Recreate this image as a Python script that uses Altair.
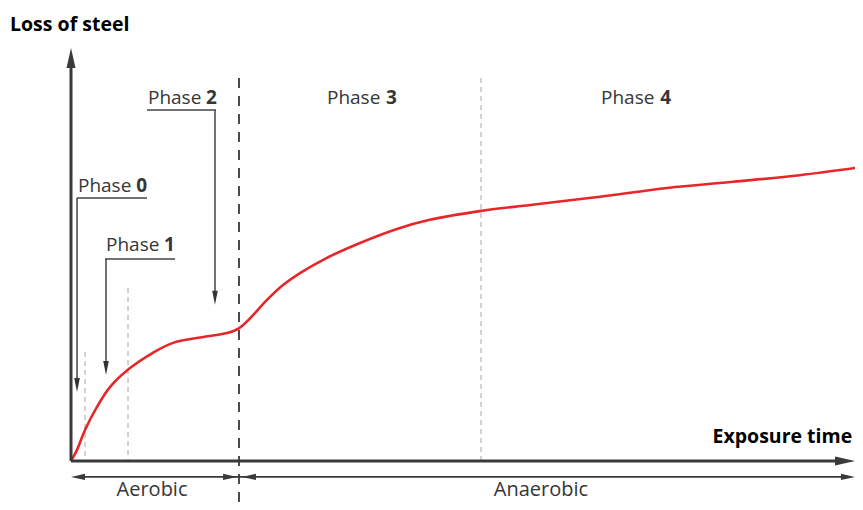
import altair as alt
import pandas as pd

# ---- curve data (exposure time vs loss of steel, arbitrary units 0-100) ----
time = [0, 0.76, 1.77, 3.28, 4.92, 7.45, 10.35, 12.88, 16.29, 19.7, 21.0, 21.72,
        22.98, 24.75, 26.77, 28.91, 32.32, 36.11, 41.16, 45.3, 51.6, 58.0, 66.8,
        75.3, 83.6, 92.0, 100]
loss = [0, 2.7, 7.5, 13.1, 17.9, 22.5, 26.2, 28.6, 29.9, 31.0, 31.9, 32.9,
        35.3, 39.0, 42.6, 45.5, 49.2, 52.5, 56.2, 58.4, 60.5, 62.0, 64.0,
        66.1, 67.6, 69.2, 71.2]

# phase boundaries
aerobic_end = 21.21
phase_bounds_minor = [1.77, 7.2, 51.77]
phase_bounds_top = [26.39, 41.89, 92.74]

phase_words = ["Phase", "Phase", "Phase", "Phase", "Phase"]
phase_nums = ["0", "1", "2", "3", "4"]
phase_word_x = [0.88, 4.42, 9.72, 32.32, 66.92]
phase_num_x = [9.6, 13.13, 18.43, 41.16, 75.76]
phase_y = [66.59, 52.30, 87.89, 87.89, 87.89]

regime_labels = ["Aerobic", "Anaerobic"]
regime_x = [10.23, 59.34]
regime_y = -7.0

XD = [-7.955, 98.99]
YD = [-9.93, 109.69]
xs = alt.Scale(domain=XD, nice=False, zero=False)
ys = alt.Scale(domain=YD, nice=False, zero=False)

DARK = "#3a3a3a"
TEXT = "#363636"


def segs(rows):
    return pd.DataFrame(rows, columns=["x", "y", "x2", "y2"])


def rule_layer(df, color, width, dash=None):
    kw = dict(color=color, strokeWidth=width)
    if dash:
        kw["strokeDash"] = dash
    return alt.Chart(df).mark_rule(**kw).encode(
        x=alt.X("x:Q", scale=xs, axis=None),
        y=alt.Y("y:Q", scale=ys, axis=None),
        x2="x2:Q", y2="y2:Q")


def arrow_layer(df, path, size, color=DARK):
    return alt.Chart(df).mark_point(shape=path, size=size, filled=True,
                                    color=color, opacity=1, strokeWidth=0).encode(
        x=alt.X("x:Q", scale=xs, axis=None),
        y=alt.Y("y:Q", scale=ys, axis=None))


def text_layer(df, **kw):
    return alt.Chart(df).mark_text(**kw).encode(
        x=alt.X("x:Q", scale=xs, axis=None),
        y=alt.Y("y:Q", scale=ys, axis=None),
        text="t:N")


curve_df = pd.DataFrame({"time": time, "loss": loss})
curve = alt.Chart(curve_df).mark_line(color="#e8262a", strokeWidth=2.6,
                                      interpolate="catmull-rom").encode(
    x=alt.X("time:Q", scale=xs, axis=None),
    y=alt.Y("loss:Q", scale=ys, axis=None))

# axes
axes = rule_layer(segs([[0, 0, 0, 97.0], [0, 0, 97.5, 0]]), DARK, 3)
up = arrow_layer(pd.DataFrame({"x": [0], "y": [97.58]}), "M0,-1L-0.45,1L0.45,1Z", 400)
right = arrow_layer(pd.DataFrame({"x": [97.73], "y": [0]}), "M1,0L-1,-0.45L-1,0.45Z", 400)

# dashed phase separators
minor = rule_layer(pd.DataFrame({"x": phase_bounds_minor, "y": phase_bounds_top,
                                 "x2": phase_bounds_minor, "y2": [0, 0, 0]}),
                   "#c4c4c4", 1.5, [5, 4])
major = rule_layer(segs([[aerobic_end, 92.74, aerobic_end, -9.93]]), "#4a4a4a", 2, [10, 8])

# callout lines
callouts = rule_layer(segs([
    [0.76, 63.68, 9.6, 63.68], [0.76, 63.68, 0.76, 19.0],
    [4.29, 48.9, 13.13, 48.9], [4.42, 48.9, 4.42, 23.0],
    [9.6, 84.99, 18.31, 84.99], [18.18, 84.99, 18.18, 40.0],
]), "#444444", 1.5)
down = arrow_layer(pd.DataFrame({"x": [0.76, 4.42, 18.18], "y": [18.4, 22.5, 39.5]}),
                   "M0,1L-0.4,-1L0.4,-1Z", 196, "#333333")

# aerobic / anaerobic span arrows
span = rule_layer(segs([[0.88, -3.87, 98.0, -3.87]]), DARK, 1.8)
span_l = arrow_layer(pd.DataFrame({"x": [0.88, 22.47], "y": [-3.87, -3.87]}),
                     "M-1,0L1,-0.45L1,0.45Z", 196)
span_r = arrow_layer(pd.DataFrame({"x": [20.08, 98.1], "y": [-3.87, -3.87]}),
                     "M1,0L-1,-0.45L-1,0.45Z", 196)

# text
titles = text_layer(pd.DataFrame({"x": [-7.70, 81.0], "y": [105.57, 5.81],
                                  "t": ["Loss of steel", "Exposure time"]}),
                    align="left", baseline="middle", font="Open Sans",
                    fontSize=19.5, fontWeight="bold", color="#000000")
words = text_layer(pd.DataFrame({"x": phase_word_x, "y": phase_y, "t": phase_words}),
                   align="left", baseline="middle", font="Open Sans",
                   fontSize=19, color=TEXT)
nums = text_layer(pd.DataFrame({"x": phase_num_x, "y": phase_y, "t": phase_nums}),
                  align="right", baseline="middle", font="Open Sans",
                  fontSize=19, fontWeight="bold", color=TEXT)
regimes = text_layer(pd.DataFrame({"x": regime_x, "y": [regime_y, regime_y],
                                   "t": regime_labels}),
                     align="center", baseline="middle", font="Open Sans",
                     fontSize=20, color=TEXT)

chart = alt.layer(
    minor, major, callouts, down, span, span_l, span_r,
    curve, axes, up, right, titles, words, nums, regimes
).properties(
    width=847, height=494,
    autosize=alt.AutoSizeParams(type="none"),
    padding=0,
).configure_view(strokeWidth=0)

chart.save("out.html", embed_options={"renderer": "svg", "actions": False})
